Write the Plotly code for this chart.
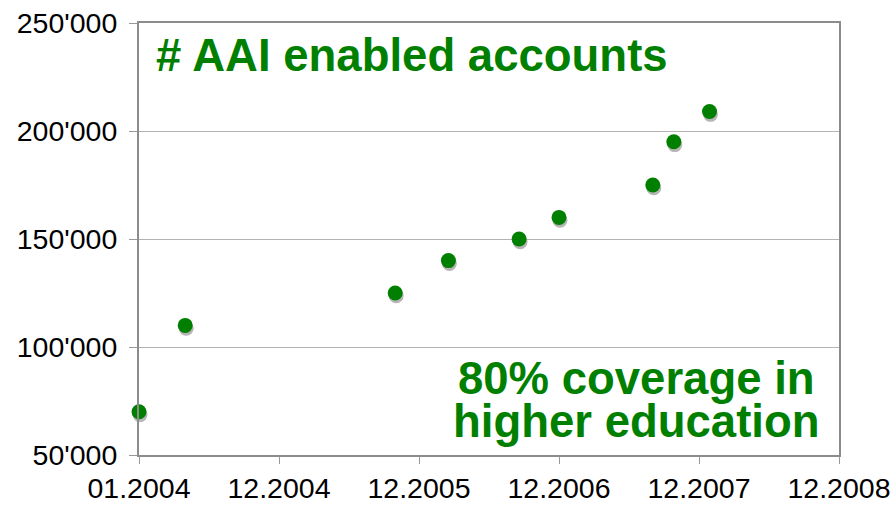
import plotly.graph_objects as go

# x position in years after 01.2004 (axis ticks are yearly)
periods = [0.0, 0.33, 1.83, 2.21, 2.715, 3.0, 3.67, 3.82, 4.075]
accounts = [70000, 110000, 125000, 140000, 150000, 160000, 175000, 195000, 209000]

tick_pos = [0, 1, 2, 3, 4, 5]
tick_labels = ['01.2004', '12.2004', '12.2005', '12.2006', '12.2007', '12.2008']

green = '#007f00'
font_family = 'Liberation Sans, Arial, sans-serif'

fig = go.Figure()

# soft drop shadow under each dot
fig.add_trace(go.Scatter(
    x=[p + 0.007 for p in periods],
    y=[a - 1300 for a in accounts],
    mode='markers',
    marker=dict(size=15, color='rgba(150,150,150,0.7)'),
    cliponaxis=False,
    hoverinfo='skip',
    showlegend=False
))

fig.add_trace(go.Scatter(
    x=periods,
    y=accounts,
    mode='markers',
    name='AAI accounts',
    marker=dict(size=15, color=green),
    cliponaxis=False,
    showlegend=False
))

fig.add_annotation(
    x=0.021, y=0.925, xref='paper', yref='paper',
    xanchor='left', yanchor='middle',
    text='<b># AAI enabled accounts</b>',
    showarrow=False,
    font=dict(size=45.5, color=green, family=font_family)
)
fig.add_annotation(
    x=0.711, y=0.176, xref='paper', yref='paper',
    xanchor='center', yanchor='middle',
    text='<b>80% coverage in</b>',
    showarrow=False,
    font=dict(size=45.5, color=green, family=font_family)
)
fig.add_annotation(
    x=0.711, y=0.078, xref='paper', yref='paper',
    xanchor='center', yanchor='middle',
    text='<b>higher education</b>',
    showarrow=False,
    font=dict(size=45.5, color=green, family=font_family)
)

fig.update_xaxes(
    range=[0, 5],
    tickvals=tick_pos,
    ticktext=tick_labels,
    ticks='outside', ticklen=7, tickcolor='#999999', tickwidth=1,
    showgrid=False, zeroline=False,
    showline=True, linecolor='#8c8c8c', linewidth=2, mirror=True,
    automargin=False,
    tickfont=dict(size=28.5, color='black', family=font_family)
)
fig.update_yaxes(
    range=[50000, 250000],
    dtick=50000,
    tickformat=',d',
    ticks='outside', ticklen=8, tickcolor='#999999', tickwidth=1,
    ticklabelstandoff=6,
    showgrid=True, gridcolor='#b4b4b4', gridwidth=1,
    zeroline=False,
    showline=True, linecolor='#8c8c8c', linewidth=2, mirror=True,
    automargin=False,
    tickfont=dict(size=28.5, color='black', family=font_family)
)

fig.update_layout(
    width=894, height=510,
    margin=dict(l=139, r=55, t=23, b=55),
    plot_bgcolor='white',
    paper_bgcolor='white',
    separators=".'",
    showlegend=False
)

# drop the browser's default page margin so the figure fills the window
fig.write_html(
    "out.html",
    config={'displayModeBar': False},
    post_script="document.body.style.margin='0';document.body.style.overflow='hidden';"
)
